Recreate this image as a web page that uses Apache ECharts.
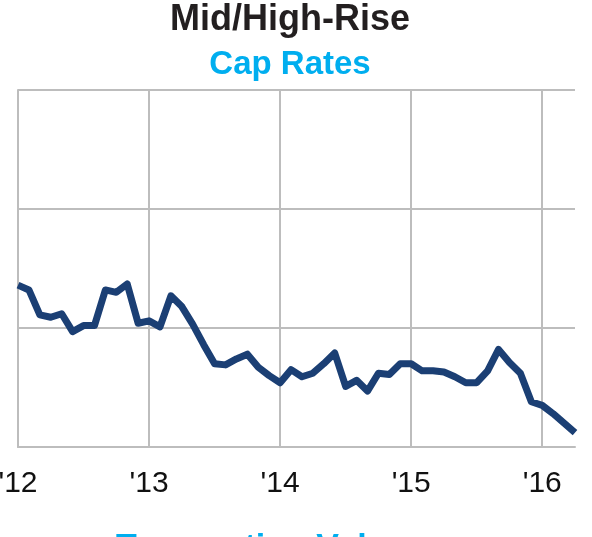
<!DOCTYPE html>
<html>
<head>
<meta charset="utf-8">
<style>
  html, body { margin: 0; padding: 0; background: #fff; }
  #chart { width: 592px; height: 537px; }
</style>
<script src="https://cdn.jsdelivr.net/npm/echarts@6/dist/echarts.min.js"></script>
</head>
<body>
<div id="chart"></div>
<script>
// monthly, Jan 2012 .. Apr 2016
var months = [];
for (var y = 2012; y <= 2016; y++) {
    for (var m = 1; m <= 12; m++) {
        if (y === 2016 && m > 4) break;
        months.push(y + '-' + (m < 10 ? '0' + m : m));
    }
}

var capRates = [
    5.36, 5.32, 5.11, 5.09, 5.12, 4.97, 5.02, 5.02, 5.32, 5.30, 5.37, 5.04,
    5.06, 5.01, 5.27, 5.18, 5.03, 4.86, 4.70, 4.69, 4.74, 4.78, 4.67, 4.60,
    4.54, 4.65, 4.59, 4.62, 4.70, 4.79, 4.51, 4.56, 4.47, 4.62, 4.61, 4.70,
    4.70, 4.64, 4.64, 4.63, 4.59, 4.54, 4.54, 4.64, 4.82, 4.71, 4.62, 4.38,
    4.35, 4.28, 4.20, 4.12
];

var yMin = 4, yMax = 7, yStep = 1;

var font = '"Liberation Sans", Arial, sans-serif';
var gridColor = '#bdbdbd';

var box = document.getElementById('chart');
var myCharts = echarts.init(box);
var option = {
    animation: false,
    title: [{
        text: 'Mid/High-Rise',
        left: 290,
        top: 2,
        textAlign: 'center',
        padding: 0,
        textStyle: { fontFamily: font, fontSize: 36, fontWeight: 'bold', color: '#231f20', lineHeight: 36 }
    }, {
        text: 'Cap Rates',
        left: 290,
        top: 48,
        textAlign: 'center',
        padding: 0,
        textStyle: { fontFamily: font, fontSize: 33, fontWeight: 'bold', color: '#00aeef', lineHeight: 33 }
    }],
    grid: { left: 18, right: 17, top: 90, bottom: 90, outerBoundsMode: 'none', containLabel: false },
    xAxis: {
        type: 'category',
        data: months,
        boundaryGap: false,
        axisLine: { show: true, lineStyle: { color: gridColor, width: 2 } },
        axisTick: { show: false },
        axisLabel: {
            interval: 11,
            margin: 22,
            fontFamily: font,
            fontSize: 30,
            color: '#111',
            formatter: function (v) { return "'" + v.slice(2, 4); }
        },
        splitLine: { show: true, interval: 11, lineStyle: { color: gridColor, width: 2 } }
    },
    yAxis: {
        type: 'value',
        min: yMin,
        max: yMax,
        interval: yStep,
        axisLine: { show: true, lineStyle: { color: gridColor, width: 2 } },
        axisTick: { show: false },
        axisLabel: { show: false },
        splitLine: { show: true, lineStyle: { color: gridColor, width: 2 } }
    },
    series: [{
        name: 'Cap Rates',
        type: 'line',
        data: capRates,
        symbol: 'none',
        lineStyle: { color: '#1b3f74', width: 7, join: 'round' }
    }],
    graphic: [{
        type: 'text',
        left: 116,
        top: 531,
        style: { text: 'Transaction Volume', fontFamily: font, fontSize: 34, fontWeight: 'bold', fill: '#00aeef' }
    }]
};
myCharts.setOption(option);
</script>
</body>
</html>
